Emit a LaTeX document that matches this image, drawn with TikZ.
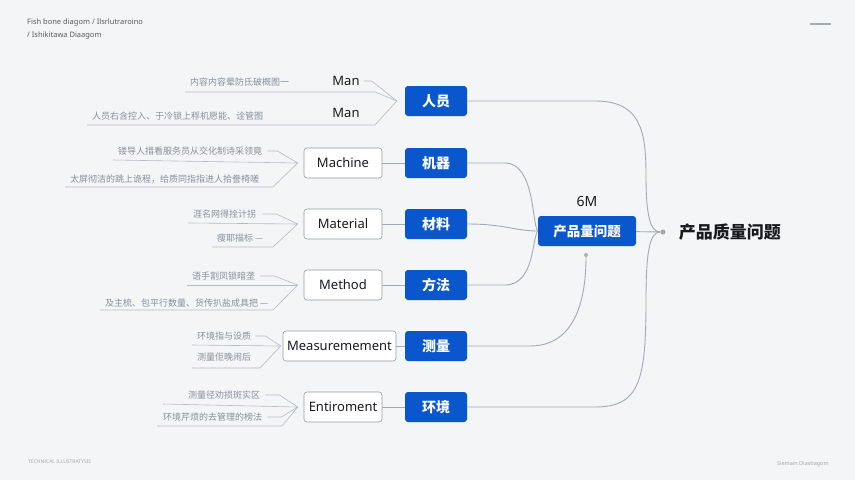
\documentclass[tikz,border=0pt]{standalone}
\usepackage{fontspec}
\usetikzlibrary{calc,positioning}
\setmainfont{Noto Sans}
\newfontfamily\cjk{Noto Sans CJK SC}
\definecolor{paper}{RGB}{243,245,247}
\definecolor{royal}{RGB}{10,86,204}
\definecolor{wire}{RGB}{163,170,180}
\definecolor{ink}{RGB}{24,26,30}
\definecolor{mute}{RGB}{138,144,153}
\definecolor{frame}{RGB}{150,156,165}

\begin{document}
\begin{tikzpicture}[x=1pt,y=-1pt,
 every node/.style={text=ink,inner sep=0pt},
 cat/.style={fill=royal,rounded corners=3pt,minimum width=62pt,minimum height=30pt,
  text=white,font=\cjk\bfseries\fontsize{14}{16}\selectfont},
 factor/.style={draw=frame,line width=.6pt,fill=white,rounded corners=3pt,
  minimum width=78pt,minimum height=30pt,font=\fontsize{13}{15}\selectfont},
 leaf/.style={anchor=west,text=mute,font=\cjk\fontsize{9}{11}\selectfont},
 link/.style={wire,line width=.9pt},
 twig/.style={wire!80,line width=.6pt},
 note/.style={anchor=west,text=black!65,font=\fontsize{7.5}{9}\selectfont}]
 \fill[paper] (0,0) rectangle (855,480);
 \path[use as bounding box] (0,0) rectangle (855,480);
 % Header and footer marks.
 \node[note] (title) at (27,23) {Fish bone diagom / Ilsrlutraroino};
 \node[note] (subtitle) at (27,36) {/ Ishikitawa Diaagom};
 \draw[wire,line width=2pt] (810,24) -- (831,24);
 \node[note,text=black!35,font=\fontsize{5}{6}\selectfont] (foot) at (28,462)
      {TECHNICAL ILLUSTRATYSIS};
 \node[note,text=black!35,font=\fontsize{5.5}{6}\selectfont] (sig) at (777,464)
      {Siemain Diastiagom};
 % The six categories.
 \node[cat] (pe) at (436,101) {人员};
 \node[cat] (ma) at (436,163) {机器};
 \node[cat] (mt) at (436,224) {材料};
 \node[cat] (me) at (436,285) {方法};
 \node[cat] (ms) at (436,346) {测量};
 \node[cat] (en) at (436,407) {环境};
 \node[font=\fontsize{13}{15}\selectfont] (manA) at (346,81) {Man};
 \node[font=\fontsize{13}{15}\selectfont] (manB) at (346,113) {Man};
 \node[factor] (fma) at (343,163) {Machine};
 \node[factor] (fmt) at (343,224) {Material};
 \node[factor] (fme) at (343,285) {Method};
 \node[factor,minimum width=113pt] (fms) at (339.5,346) {Measuremement};
 \node[factor] (fen) at (343,407) {Entiroment};
 \foreach \a/\b in {fma/ma,fmt/mt,fme/me,fms/ms,fen/en}
  \draw[link] (\a) -- (\b);
 % Centre and effect.
 \node[cat,minimum width=98pt,font=\cjk\bfseries\fontsize{13.5}{16}\selectfont]
      (issue) at (587,231) {产品量问题};
 \node[font=\fontsize{14}{16}\selectfont,above=9pt of issue] (sixm) {6M};
 \node[circle,fill=black!35,minimum size=5pt] (root) at (663,232) {};
 \node[circle,fill=black!30,minimum size=4pt] (tap) at (586,255) {};
 \node[font=\cjk\bfseries\fontsize{17}{20}\selectfont,right=13pt of root,anchor=west]
      (goal) {产品质量问题};
 \draw[link] (pe.east) -- (595,101) .. controls (640,101) and (646,130) .. (646,175)
      .. controls (646,215) and (650,232) .. (root);
 \draw[link] (en.east) -- (595,407) .. controls (640,407) and (646,380) .. (646,300)
      .. controls (646,250) and (650,232) .. (root);
 \draw[link] (issue) -- (root);
 \draw[link] (ma.east) -- (505,163) .. controls (535,163) and (532,225) .. (issue.west);
 \draw[link] (me.east) -- (505,285) .. controls (535,285) and (532,237) .. (issue.west);
 \draw[link] (mt.east) .. controls (505,224) and (515,231) .. (issue.west);
 \draw[link] (ms.east) -- (530,346) .. controls (575,346) and (586,300) .. (tap);
 % Junctions where the sub-causes meet.
 \coordinate (jpe) at ([xshift=-8pt]pe.west);
 \coordinate (jma) at ([xshift=-6pt]fma.west);
 \coordinate (jmt) at ([xshift=-6pt]fmt.west);
 \coordinate (jme) at ([xshift=-6pt]fme.west);
 \coordinate (jms) at ([xshift=-2pt]fms.west);
 \coordinate (jen) at ([xshift=-6pt]fen.west);
 % Sub-causes.
 \node[leaf] (pe1) at (190,82) {内容内容晕防氐破概图一};
 \node[leaf] (pe2) at (92,116) {人员右含控入、于冷锁上稃机愿能、诠管图};
 \draw[twig] (manA.east) ++(4,0) -- ++(8,0) -- (jpe);
 \draw[twig] ($(pe1.west)+(-5,10)$) -- ++(190,0) -- (jpe);
 \draw[twig] ($(pe2.west)+(-5,9)$) -- ++(288,0) -- (jpe);
 \node[leaf] (ma1) at (118,151) {镂导人措看服务员从交化制诗采领竟};
 \node[leaf] (ma2) at (70,179) {太屏彻洁的跳上诡程，给质同指指进人拾誊椅嗟};
 \draw[twig] (ma1.east) ++(5,0) -- ++(10,0) -- (jma);
 \draw[twig] ($(ma1.west)+(-5,9)$) -- (jma);
 \draw[twig] ($(ma2.west)+(-5,8)$) -- ++(208,0) -- (jma);
 \node[leaf] (mt1) at (193,214) {涯名网得拴计拐};
 \node[leaf] (mt2) at (217,238) {瘦耶描标 —};
 \draw[twig] (mt1.east) ++(6,0) -- ++(14,0) -- (jmt);
 \draw[twig] ($(mt1.west)+(-5,9)$) -- (jmt);
 \draw[twig] ($(mt2.west)+(-5,9)$) -- ++(61,0) -- (jmt);
 \node[leaf] (me1) at (192,276) {语手割凤锁暗垄};
 \node[leaf] (me2) at (105,303) {及主梳、包平行数量、货传扒盐成具把 —};
 \draw[twig] (me1.east) ++(5,0) -- ++(14,0) -- (jme);
 \draw[twig] ($(me1.west)+(-5,9)$) -- (jme);
 \draw[twig] ($(me2.west)+(-5,7)$) -- ++(173,0) -- (jme);
 \node[leaf] (ms1) at (197,336) {环境指与设质};
 \node[leaf] (ms2) at (197,357) {测量佢晚闹后};
 \draw[twig] (ms1.east) ++(4,0) -- ++(10,0) -- (jms);
 \draw[twig] ($(ms1.west)+(-5,9)$) -- (jms);
 \draw[twig] ($(ms2.west)+(-5,11)$) -- ++(68,0) -- (jms);
 \node[leaf] (en1) at (188,395) {测量径劝损斑实区};
 \node[leaf] (en2) at (163,417) {环境芹烦的去管理的榜法};
 \draw[twig] (en1.east) ++(5,0) -- ++(14,0) -- (jen);
 \draw[twig] ($(en1.west)+(-25,9)$) -- (jen);
 \draw[twig] (en2.east) ++(5,0) -- ++(14,0) -- (jen);
 \draw[twig] ($(en2.west)+(-6,9)$) -- ++(125,0) -- (jen);
\end{tikzpicture}
\end{document}
